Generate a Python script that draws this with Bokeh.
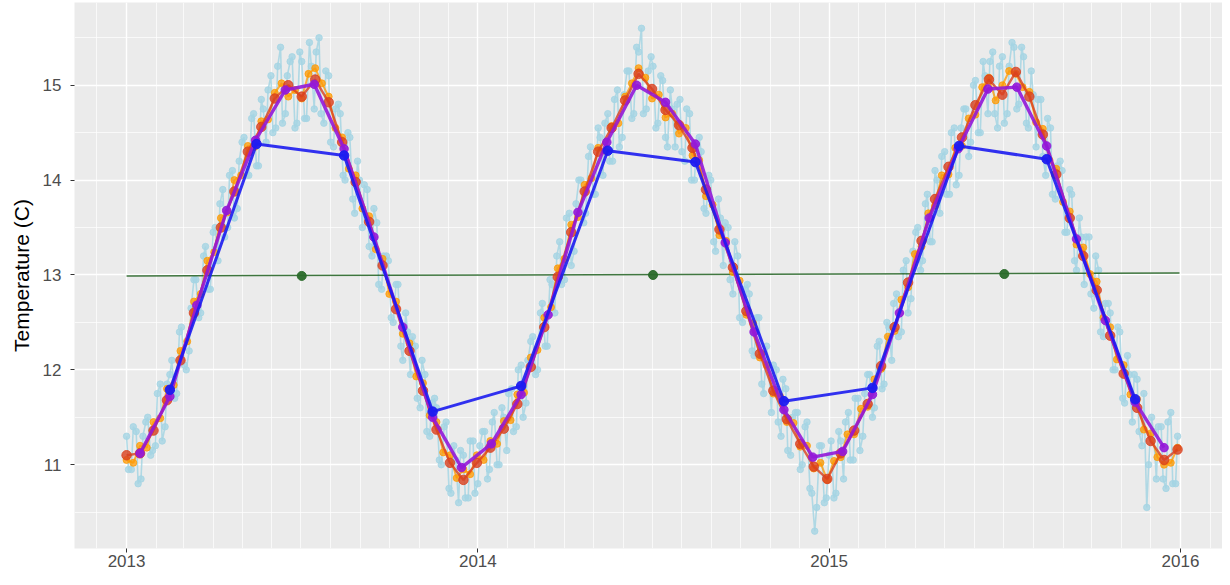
import pandas as pd
import numpy as np
from bokeh.plotting import figure
from bokeh.models import FixedTicker, DatetimeTickFormatter, Range1d
from bokeh.embed import file_html
from bokeh.resources import INLINE

# ---------------- data ----------------
# daily readings, part A (every 5 days from 2013-01-01)
daily_a_start = "2013-01-01"
daily_a_vals = [
    11.30, 10.95, 11.35, 10.85, 11.45, 11.10, 11.20, 11.85, 11.40, 11.95,
    11.70, 12.40, 12.05, 12.20, 12.95, 12.55, 13.20, 12.85, 13.45, 13.15,
    13.90, 13.50, 14.10, 13.70, 14.40, 14.05, 14.65, 14.15, 14.85, 14.40,
    15.10, 14.55, 15.40, 14.70, 15.25, 14.55, 15.35, 14.65, 15.45, 14.75,
    15.50, 14.60, 15.10, 14.35, 14.80, 14.05, 14.50, 13.80, 14.20, 13.50,
    13.90, 13.20, 13.55, 12.85, 13.20, 12.55, 12.90, 12.25, 12.60, 11.95,
    12.25, 11.60, 11.95, 11.30, 11.70, 11.05, 11.40, 10.75, 11.20, 10.60,
    11.10, 10.65, 11.25, 10.80, 11.35, 10.85, 11.45, 11.00, 11.60, 11.15,
    11.80, 11.40, 12.05, 11.65, 12.30, 11.95, 12.60, 12.25, 12.95, 12.60,
    13.35, 12.95, 13.65, 13.25, 14.00, 13.55, 14.25, 13.85, 14.55, 14.05,
    14.70, 14.20, 14.95, 14.45, 15.15, 14.65, 15.40, 15.60, 14.75, 15.30,
    14.55, 15.10, 14.45, 14.95, 14.35, 14.85, 14.20, 14.70, 14.00, 14.45,
    13.70, 14.05, 13.35, 13.80, 13.10, 13.50, 12.80, 13.20, 12.50, 12.90,
    12.20, 12.55, 11.85, 12.25, 11.55, 12.00, 11.30, 11.80, 11.10, 11.55,
    10.95, 11.40, 10.75, 10.30, 11.20, 10.60, 11.10, 10.65, 11.35, 10.85,
    11.55, 11.05, 11.70, 11.30, 11.95, 11.50, 12.25, 11.80, 12.50, 12.10,
    12.80, 12.40, 13.15, 12.75, 13.45, 13.05, 13.75, 13.35, 14.10, 13.65,
    14.30, 13.85, 14.55, 14.05, 14.75, 14.25, 15.00, 14.50, 15.25, 14.70,
    15.35, 14.55, 15.30, 14.70, 15.45, 14.75, 15.40, 14.60, 15.15, 14.35,
    14.85, 14.05, 14.55, 13.80, 14.20, 13.45, 13.90, 13.15, 13.60, 12.90,
    13.40, 12.65, 13.05, 12.35, 12.70, 12.00, 12.45, 11.70, 12.15, 11.45,
    11.90, 11.20, 10.55, 11.50, 10.85, 11.40, 10.75, 11.55, 10.80,
]
# daily readings, part B (every 5 days from 2013-01-03)
daily_b_start = "2013-01-03"
daily_b_vals = [
    10.95, 11.40, 10.80, 11.30, 11.50, 11.15, 11.75, 11.25, 11.85, 12.10,
    11.75, 12.45, 12.00, 12.65, 12.95, 12.60, 13.30, 12.85, 13.50, 13.75,
    13.40, 14.05, 13.60, 14.20, 14.45, 14.05, 14.70, 14.15, 14.75, 14.95,
    14.50, 15.20, 14.60, 15.10, 15.30, 14.60, 15.25, 14.65, 15.20, 15.35,
    14.70, 15.15, 14.40, 14.75, 14.70, 14.00, 14.45, 13.65, 14.00, 13.95,
    13.30, 13.70, 12.90, 13.20, 13.15, 12.50, 12.90, 12.10, 12.40, 12.35,
    11.70, 12.10, 11.35, 11.65, 11.60, 11.00, 11.45, 10.70, 11.05, 11.15,
    10.65, 11.25, 10.70, 11.20, 11.35, 10.95, 11.55, 11.00, 11.50, 11.75,
    11.35, 12.00, 11.50, 12.10, 12.35, 12.00, 12.70, 12.25, 12.90, 13.20,
    12.90, 13.60, 13.10, 13.75, 14.00, 13.65, 14.35, 13.85, 14.45, 14.60,
    14.20, 14.85, 14.35, 14.90, 15.15, 14.70, 15.35, 14.70, 15.15, 15.20,
    14.60, 15.05, 14.35, 14.75, 14.80, 14.30, 14.75, 14.00, 14.35, 14.30,
    13.65, 14.00, 13.25, 13.60, 13.55, 12.95, 13.35, 12.55, 12.85, 12.80,
    12.15, 12.55, 11.75, 12.05, 12.05, 11.45, 11.90, 11.15, 11.50, 11.55,
    11.00, 11.45, 10.70, 10.55, 11.20, 10.65, 11.25, 10.70, 11.25, 11.45,
    11.05, 11.70, 11.15, 11.75, 11.95, 11.60, 12.30, 11.85, 12.45, 12.70,
    12.35, 13.05, 12.60, 13.25, 13.50, 13.15, 13.85, 13.35, 14.00, 14.25,
    13.85, 14.50, 13.95, 14.55, 14.75, 14.40, 15.05, 14.50, 15.10, 15.25,
    14.70, 15.20, 14.60, 15.20, 15.40, 14.80, 15.30, 14.55, 14.90, 14.85,
    14.25, 14.65, 13.85, 14.15, 14.10, 13.45, 13.85, 13.05, 13.40, 13.40,
    12.80, 13.20, 12.40, 12.70, 12.60, 12.00, 12.40, 11.65, 11.95, 11.95,
    11.35, 11.75, 11.00, 11.35, 11.40, 10.85, 11.45, 10.80, 11.30,
]

# weekly averages (every 7 days from 2013-01-01)
weekly_start = "2013-01-01"
weekly_vals = [
    11.05, 11.02, 11.20, 11.18, 11.45, 11.49, 11.80, 11.84, 12.20, 12.30,
    12.72, 12.80, 13.15, 13.24, 13.60, 13.66, 14.00, 14.05, 14.36, 14.35,
    14.62, 14.64, 14.92, 15.02, 14.88, 14.95, 14.86, 15.12, 15.18, 15.02,
    14.88, 14.55, 14.45, 14.12, 14.05, 13.70, 13.62, 13.27, 13.17, 12.80,
    12.72, 12.38, 12.28, 11.93, 11.86, 11.52, 11.45, 11.13, 11.10, 10.86,
    10.95, 10.90, 11.10, 11.05, 11.25, 11.22, 11.46, 11.47, 11.74, 11.76,
    12.13, 12.21, 12.55, 12.66, 13.07, 13.17, 13.53, 13.61, 13.95, 14.02,
    14.34, 14.31, 14.57, 14.60, 14.88, 15.02, 15.18, 15.08, 14.86, 14.90,
    14.66, 14.70, 14.49, 14.55, 14.26, 14.21, 13.83, 13.74, 13.42, 13.36,
    13.03, 12.94, 12.58, 12.49, 12.13, 12.05, 11.75, 11.72, 11.45, 11.44,
    11.19, 11.20, 10.96, 11.02, 10.84, 11.04, 11.08, 11.32, 11.32, 11.59,
    11.61, 11.90, 12.01, 12.35, 12.41, 12.74, 12.87, 13.22, 13.30, 13.65,
    13.73, 14.05, 14.06, 14.34, 14.36, 14.65, 14.69, 14.98, 15.08, 14.84,
    15.00, 15.15, 15.12, 14.98, 14.93, 14.61, 14.54, 14.21, 14.12, 13.77,
    13.67, 13.32, 13.29, 13.01, 12.93, 12.55, 12.45, 12.11, 12.05, 11.74,
    11.69, 11.37, 11.33, 11.08, 11.00, 11.02, 11.18,
]

# two-weekly averages (every 14 days from 2013-01-01)
biweekly_start = "2013-01-01"
biweekly_vals = [
    11.10, 11.12, 11.36, 11.68, 12.10, 12.60, 13.05, 13.50, 13.88, 14.30,
    14.56, 14.86, 15.00, 14.88, 15.06, 14.82, 14.40, 13.98, 13.56, 13.10,
    12.64, 12.20, 11.78, 11.37, 11.02, 10.84, 11.02, 11.18, 11.38, 11.64,
    12.03, 12.45, 12.98, 13.45, 13.88, 14.30, 14.55, 14.84, 15.12, 14.96,
    14.74, 14.58, 14.34, 13.90, 13.48, 13.08, 12.62, 12.17, 11.78, 11.48,
    11.22, 10.98, 10.85, 11.12, 11.36, 11.64, 12.04, 12.45, 12.92, 13.36,
    13.80, 14.14, 14.45, 14.79, 15.06, 14.90, 15.14, 14.88, 14.48, 14.06,
    13.60, 13.20, 12.84, 12.36, 11.96, 11.60, 11.25, 11.05, 11.16,
]

# monthly averages (mid-month)
monthly_vals = [
    11.12, 11.72, 12.68, 13.68, 14.42, 14.95, 15.01, 14.33, 13.40, 12.45, 11.50, 10.97,
    11.22, 11.74, 12.58, 13.66, 14.40, 15.00, 14.82, 14.38, 13.34, 12.40, 11.58, 11.08,
    11.14, 11.74, 12.60, 13.60, 14.33, 14.96, 14.98, 14.36, 13.38, 12.52, 11.66, 11.18,
]

# quarterly averages (mid-quarter)
quarterly_vals = [11.79, 14.38, 14.26, 11.56,
                  11.83, 14.31, 14.19, 11.67,
                  11.81, 14.36, 14.22, 11.69]

# yearly averages (mid-year) and the overall trend line
yearly_vals = [12.99, 13.00, 13.01]
trend_dates = ["2013-01-01", "2015-12-31"]
trend_vals = [12.99, 13.02]

year_ticks = ["2013", "2014", "2015", "2016"]

# ---------------- dates ----------------
daily = pd.concat([
    pd.Series(daily_a_vals, index=pd.date_range(daily_a_start, periods=len(daily_a_vals), freq="5D")),
    pd.Series(daily_b_vals, index=pd.date_range(daily_b_start, periods=len(daily_b_vals), freq="5D")),
]).sort_index()
d_weekly = pd.date_range(weekly_start, periods=len(weekly_vals), freq="7D")
d_biweekly = pd.date_range(biweekly_start, periods=len(biweekly_vals), freq="14D")
d_monthly = pd.date_range("2013-01-01", periods=len(monthly_vals), freq="MS") + pd.Timedelta(days=14)
d_quarterly = pd.date_range("2013-01-01", periods=len(quarterly_vals), freq="QS") + pd.Timedelta(days=45)
d_yearly = pd.date_range("2013-01-01", periods=len(yearly_vals), freq="YS") + pd.Timedelta(days=182)
d_trend = pd.to_datetime(trend_dates)

def ms(ts):
    return pd.Timestamp(ts).value / 1e6

# ---------------- figure ----------------
x0 = pd.Timestamp("2013-01-01") - pd.Timedelta(days=54.1)
x1 = pd.Timestamp("2016-01-01") + pd.Timedelta(days=43.7)

p = figure(width=1222, height=569, x_axis_type="datetime",
           x_range=Range1d(x0, x1), y_range=Range1d(10.117, 15.872),
           output_backend="svg", toolbar_location=None,
           min_border_left=74, min_border_top=2, min_border_right=0, min_border_bottom=0)

p.background_fill_color = "#EBEBEB"
p.border_fill_color = "white"
p.outline_line_color = None

xt = [ms(f"{y}-01-01") for y in year_ticks]
xminor = [ms(t) for t in pd.date_range("2012-11-01", "2016-02-01", freq="MS")]
p.xaxis.ticker = FixedTicker(ticks=xt, minor_ticks=xminor)
p.xaxis.formatter = DatetimeTickFormatter(years="%Y", months="%Y", days="%Y")
p.yaxis.ticker = FixedTicker(ticks=[11, 12, 13, 14, 15],
                             minor_ticks=[10.5, 11.5, 12.5, 13.5, 14.5, 15.5])

for g in (p.xgrid, p.ygrid):
    g.grid_line_color = "white"
    g.grid_line_width = 1.4
    g.minor_grid_line_color = "white"
    g.minor_grid_line_width = 0.7

for ax in (p.xaxis, p.yaxis):
    ax.axis_line_color = None
    ax.major_tick_line_color = "#333333"
    ax.major_tick_out = 4
    ax.major_tick_in = 0
    ax.minor_tick_line_color = None
    ax.major_label_text_font = "Liberation Sans"
    ax.major_label_text_color = "#4D4D4D"
    ax.major_label_text_font_size = "17px"

p.xaxis.major_label_standoff = 2
p.yaxis.major_label_standoff = 9
p.yaxis.axis_label = "Temperature (C)"
p.yaxis.axis_label_text_font = "Liberation Sans"
p.yaxis.axis_label_text_font_style = "normal"
p.yaxis.axis_label_text_font_size = "21px"
p.yaxis.axis_label_text_color = "black"
p.yaxis.axis_label_standoff = 7

# daily
p.line(daily.index, daily.values, color="#A5D5E3", line_width=1.6, alpha=0.85)
p.scatter(daily.index, daily.values, size=6.5, color="#A5D5E3", alpha=0.8)
# yearly trend + yearly means
p.line(d_trend, trend_vals, color="#1F5F1F", line_width=1.5, alpha=0.85)
p.scatter(d_yearly, yearly_vals, size=9, color="#2A6A2A", alpha=0.95)
# weekly
p.line(d_weekly, weekly_vals, color="#FF9A00", line_width=2.0, alpha=0.75)
p.scatter(d_weekly, weekly_vals, size=7, color="#FF9A00", alpha=0.75)
# two-weekly
p.line(d_biweekly, biweekly_vals, color="#D9401E", line_width=2.4, alpha=0.8)
p.scatter(d_biweekly, biweekly_vals, size=9.5, color="#D9401E", alpha=0.8)
# monthly
p.line(d_monthly, monthly_vals, color="#9418D8", line_width=3.4, alpha=0.9)
p.scatter(d_monthly, monthly_vals, size=8.5, color="#9418D8", alpha=0.9)
# quarterly
p.line(d_quarterly, quarterly_vals, color="#1C1CF0", line_width=3, alpha=0.9)
p.scatter(d_quarterly, quarterly_vals, size=9.5, color="#1C1CF0", alpha=0.95)

open("out.html", "w").write(file_html(p, INLINE))
